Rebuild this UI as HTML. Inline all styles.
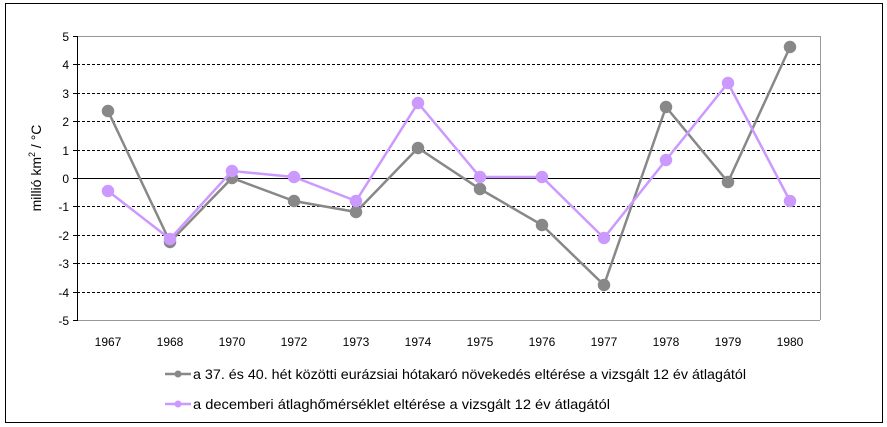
<!DOCTYPE html><html><head><style>body{margin:0;background:#fff}svg{display:block}text{font-family:"Liberation Sans",sans-serif;font-size:12px;fill:#000}</style></head><body>
<svg width="887" height="427" xmlns="http://www.w3.org/2000/svg">
<rect x="5.5" y="3.5" width="877" height="419" fill="#fff" stroke="#000"/>
<g stroke="#000" stroke-dasharray="3,2" stroke-width="1">
<line x1="77" y1="64.5" x2="820" y2="64.5"/><line x1="77" y1="93.5" x2="820" y2="93.5"/><line x1="77" y1="121.5" x2="820" y2="121.5"/><line x1="77" y1="150.5" x2="820" y2="150.5"/>
<line x1="77" y1="206.5" x2="820" y2="206.5"/><line x1="77" y1="235.5" x2="820" y2="235.5"/><line x1="77" y1="263.5" x2="820" y2="263.5"/><line x1="77" y1="292.5" x2="820" y2="292.5"/>
</g>
<line x1="77" y1="36.5" x2="820" y2="36.5" stroke="#999"/><line x1="820.5" y1="36" x2="820.5" y2="320" stroke="#999"/><line x1="77" y1="320.5" x2="820" y2="320.5" stroke="#999"/>
<line x1="77" y1="178.5" x2="820" y2="178.5" stroke="#000"/>
<line x1="77.5" y1="36" x2="77.5" y2="321" stroke="#000"/>
<g stroke="#000"><line x1="73" y1="36.5" x2="77" y2="36.5"/><line x1="73" y1="64.5" x2="77" y2="64.5"/><line x1="73" y1="93.5" x2="77" y2="93.5"/><line x1="73" y1="121.5" x2="77" y2="121.5"/><line x1="73" y1="150.5" x2="77" y2="150.5"/><line x1="73" y1="178.5" x2="77" y2="178.5"/><line x1="73" y1="206.5" x2="77" y2="206.5"/><line x1="73" y1="235.5" x2="77" y2="235.5"/><line x1="73" y1="263.5" x2="77" y2="263.5"/><line x1="73" y1="292.5" x2="77" y2="292.5"/><line x1="73" y1="320.5" x2="77" y2="320.5"/></g>
<g text-anchor="end"><text x="69" y="41">5</text><text x="69" y="69">4</text><text x="69" y="98">3</text><text x="69" y="126">2</text><text x="69" y="155">1</text><text x="69" y="183">0</text><text x="69" y="211">-1</text><text x="69" y="240">-2</text><text x="69" y="268">-3</text><text x="69" y="297">-4</text><text x="69" y="325">-5</text></g>
<g text-anchor="middle"><text x="108" y="346">1967</text><text x="170" y="346">1968</text><text x="232" y="346">1970</text><text x="294" y="346">1972</text><text x="356" y="346">1973</text><text x="418" y="346">1974</text><text x="480" y="346">1975</text><text x="542" y="346">1976</text><text x="604" y="346">1977</text><text x="666" y="346">1978</text><text x="728" y="346">1979</text><text x="790" y="346">1980</text></g>
<text transform="translate(41,168) rotate(-90)" text-anchor="middle" font-size="14" style="font-size:14px">millió km<tspan dy="-6" style="font-size:9px">2</tspan><tspan dy="6"> / °C</tspan></text>
<g fill="#888" stroke="#888" stroke-width="2.5">
<polyline fill="none" points="108,111 170,242 232,178 294,201 356,212 418,148 480,189 542,225 604,285 666,107 728,182 790,47"/>
<circle cx="108" cy="111" r="5"/><circle cx="170" cy="242" r="5"/><circle cx="232" cy="178" r="5"/><circle cx="294" cy="201" r="5"/><circle cx="356" cy="212" r="5"/><circle cx="418" cy="148" r="5"/><circle cx="480" cy="189" r="5"/><circle cx="542" cy="225" r="5"/><circle cx="604" cy="285" r="5"/><circle cx="666" cy="107" r="5"/><circle cx="728" cy="182" r="5"/><circle cx="790" cy="47" r="5"/>
</g>
<g fill="#cc99ff" stroke="#cc99ff" stroke-width="2.5">
<polyline fill="none" points="108,191 170,239 232,171 294,177 356,201 418,103 480,177 542,177 604,238 666,160 728,83 790,201"/>
<circle cx="108" cy="191" r="5"/><circle cx="170" cy="239" r="5"/><circle cx="232" cy="171" r="5"/><circle cx="294" cy="177" r="5"/><circle cx="356" cy="201" r="5"/><circle cx="418" cy="103" r="5"/><circle cx="480" cy="177" r="5"/><circle cx="542" cy="177" r="5"/><circle cx="604" cy="238" r="5"/><circle cx="666" cy="160" r="5"/><circle cx="728" cy="83" r="5"/><circle cx="790" cy="201" r="5"/>
</g>
<line x1="165" y1="374" x2="191" y2="374" stroke="#888" stroke-width="2.5"/><circle cx="178" cy="374" r="3.5" fill="#888"/>
<line x1="165" y1="404" x2="191" y2="404" stroke="#cc99ff" stroke-width="2.5"/><circle cx="178" cy="404" r="3.5" fill="#cc99ff"/>
<text x="193" y="379" style="font-size:14px" textLength="553" lengthAdjust="spacingAndGlyphs">a 37. és 40. hét közötti eurázsiai hótakaró növekedés eltérése a vizsgált 12 év átlagától</text>
<text x="193" y="409" style="font-size:14px" textLength="417" lengthAdjust="spacingAndGlyphs">a decemberi átlaghőmérséklet eltérése a vizsgált 12 év átlagától</text>
</svg></body></html>
